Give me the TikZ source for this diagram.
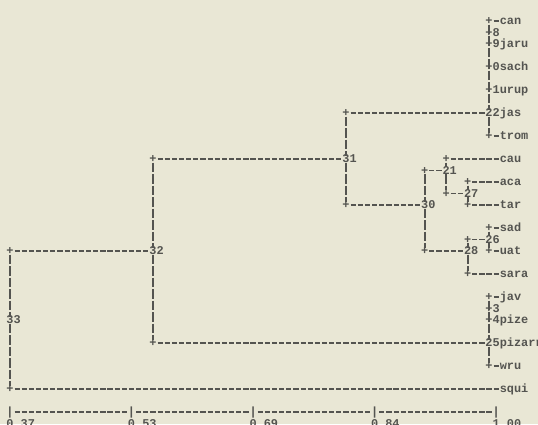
\documentclass[tikz,border=0pt]{standalone}
\usepackage{fontspec}
\setmonofont{Liberation Mono}
\usepackage{tikz}
\usetikzlibrary{calc}
\definecolor{paper}{RGB}{233,231,213}
\definecolor{ink}{RGB}{84,84,80}

\begin{document}
\begin{tikzpicture}[
  x=7.15pt, y=-11.5pt,
  txt/.style={inner sep=0pt, outer sep=0pt, text height=7pt, text depth=0pt,
              text=ink, font={\fontsize{11.9}{12}\selectfont\ttfamily\bfseries}},
  pl/.style={txt},
  num/.style={txt, anchor=west},
  leaf/.style={txt, anchor=west},
  hl/.style={ink, line width=1.9pt, dash pattern=on 5.2pt off 1.95pt, dash phase=6.175pt},
  vl/.style={ink, line width=1.9pt, dash pattern=on 9.5pt off 2pt}
]
\fill[paper] (-1.3986,-1.8261) rectangle (73.846,35.0435);
\useasboundingbox (-1.3986,-1.8261) rectangle (73.846,35.0435);

\node[pl]   (p22a)   at (67,0)     {+};
\node[leaf] (can)    at (68.5,0)   {can};
\node[pl]   (p22b)   at (67,1)     {+};
\node[leaf] (l8)     at (67.5,1)   {8};
\node[pl]   (p22c)   at (67,2)     {+};
\node[leaf] (jaru)   at (67.5,2)   {9jaru};
\node[pl]   (p22d)   at (67,4)     {+};
\node[leaf] (sach)   at (67.5,4)   {0sach};
\node[pl]   (p22e)   at (67,6)     {+};
\node[leaf] (urup)   at (67.5,6)   {1urup};
\node[num]  (n22)    at (66.5,8)   {22};
\node[leaf] (jas)    at (68.5,8)   {jas};
\node[pl]   (p22f)   at (67,10)    {+};
\node[leaf] (trom)   at (68.5,10)  {trom};

\node[pl]   (p31a)   at (47,8)     {+};
\node[num]  (n31)    at (46.5,12)  {31};
\node[pl]   (p31b)   at (47,16)    {+};
\node[num]  (n30)    at (57.5,16)  {30};

\node[pl]   (p30a)   at (58,13)    {+};
\node[num]  (n21)    at (60.5,13)  {21};
\node[pl]   (p30b)   at (58,20)    {+};
\node[num]  (n28)    at (63.5,20)  {28};

\node[pl]   (p21a)   at (61,12)    {+};
\node[leaf] (cau)    at (68.5,12)  {cau};
\node[pl]   (p21b)   at (61,15)    {+};
\node[num]  (n27)    at (63.5,15)  {27};

\node[pl]   (p27a)   at (64,14)    {+};
\node[leaf] (aca)    at (68.5,14)  {aca};
\node[pl]   (p27b)   at (64,16)    {+};
\node[leaf] (tar)    at (68.5,16)  {tar};

\node[pl]   (p28a)   at (64,19)    {+};
\node[num]  (n26)    at (66.5,19)  {26};
\node[pl]   (p28b)   at (64,22)    {+};
\node[leaf] (sara)   at (68.5,22)  {sara};

\node[pl]   (p26a)   at (67,18)    {+};
\node[leaf] (sad)    at (68.5,18)  {sad};
\node[pl]   (p26b)   at (67,20)    {+};
\node[leaf] (uat)    at (68.5,20)  {uat};

\node[pl]   (p32a)   at (20,12)    {+};
\node[num]  (n32)    at (19.5,20)  {32};
\node[pl]   (p32b)   at (20,28)    {+};

\node[pl]   (p25a)   at (67,24)    {+};
\node[leaf] (jav)    at (68.5,24)  {jav};
\node[pl]   (p25b)   at (67,25)    {+};
\node[leaf] (l3)     at (67.5,25)  {3};
\node[pl]   (p25c)   at (67,26)    {+};
\node[leaf] (pize)   at (67.5,26)  {4pize};
\node[num]  (n25)    at (66.5,28)  {25};
\node[leaf] (pizarr) at (68.5,28)  {pizarr};
\node[pl]   (p25d)   at (67,30)    {+};
\node[leaf] (wru)    at (68.5,30)  {wru};

\node[pl]   (p33a)   at (0,20)     {+};
\node[num]  (n33)    at (-0.5,26)  {33};
\node[pl]   (p33b)   at (0,32)     {+};
\node[leaf] (squi)   at (68.5,32)  {squi};

\foreach \k [count=\i from 0] in {0.37,0.53,0.69,0.84,1.00} {
  \node[pl] (t\i) at (17*\i,34) {|};
  \node[leaf] (v\i) at (17*\i-0.5,35) {\k};
}

\draw[vl] (p22a) -- (p22a |- n22.north);
\draw[vl] (p22a |- n22.south) -- (p22f);
\draw[hl] (p22a) -- (can);
\draw[hl] (p22f) -- (trom);

\draw[vl] (p31a) -- (p31a |- n31.north);
\draw[vl] (p31a |- n31.south) -- (p31b);
\draw[hl] (p31a) -- (n22);
\draw[hl] (p31b) -- (n30);

\draw[vl] (p30a) -- (p30a |- n30.north);
\draw[vl] (p30a |- n30.south) -- (p30b);
\draw[hl] (p30a) -- (n21);
\draw[hl] (p30b) -- (n28);

\draw[vl] (p21a) -- (p21a |- n21.north);
\draw[vl] (p21a |- n21.south) -- (p21b);
\draw[hl] (p21a) -- (cau);
\draw[hl] (p21b) -- (n27);

\draw[vl] (p27a) -- (p27a |- n27.north);
\draw[vl] (p27a |- n27.south) -- (p27b);
\draw[hl] (p27a) -- (aca);
\draw[hl] (p27b) -- (tar);

\draw[vl] (p28a) -- (p28a |- n28.north);
\draw[vl] (p28a |- n28.south) -- (p28b);
\draw[hl] (p28a) -- (n26);
\draw[hl] (p28b) -- (sara);

\draw[vl] (p26a) -- (p26a |- n26.north);
\draw[vl] (p26a |- n26.south) -- (p26b);
\draw[hl] (p26a) -- (sad);
\draw[hl] (p26b) -- (uat);

\draw[vl] (p32a) -- (p32a |- n32.north);
\draw[vl] (p32a |- n32.south) -- (p32b);
\draw[hl] (p32a) -- (n31);
\draw[hl] (p32b) -- (n25);

\draw[vl] (p25a) -- (p25a |- n25.north);
\draw[vl] (p25a |- n25.south) -- (p25d);
\draw[hl] (p25a) -- (jav);
\draw[hl] (p25d) -- (wru);

\draw[vl] (p33a) -- (p33a |- n33.north);
\draw[vl] (p33a |- n33.south) -- (p33b);
\draw[hl] (p33a) -- (n32);
\draw[hl] (p33b) -- (squi);

\draw[hl] (t0) -- (t1);
\draw[hl] (t1) -- (t2);
\draw[hl] (t2) -- (t3);
\draw[hl] (t3) -- (t4);
\end{tikzpicture}
\end{document}
